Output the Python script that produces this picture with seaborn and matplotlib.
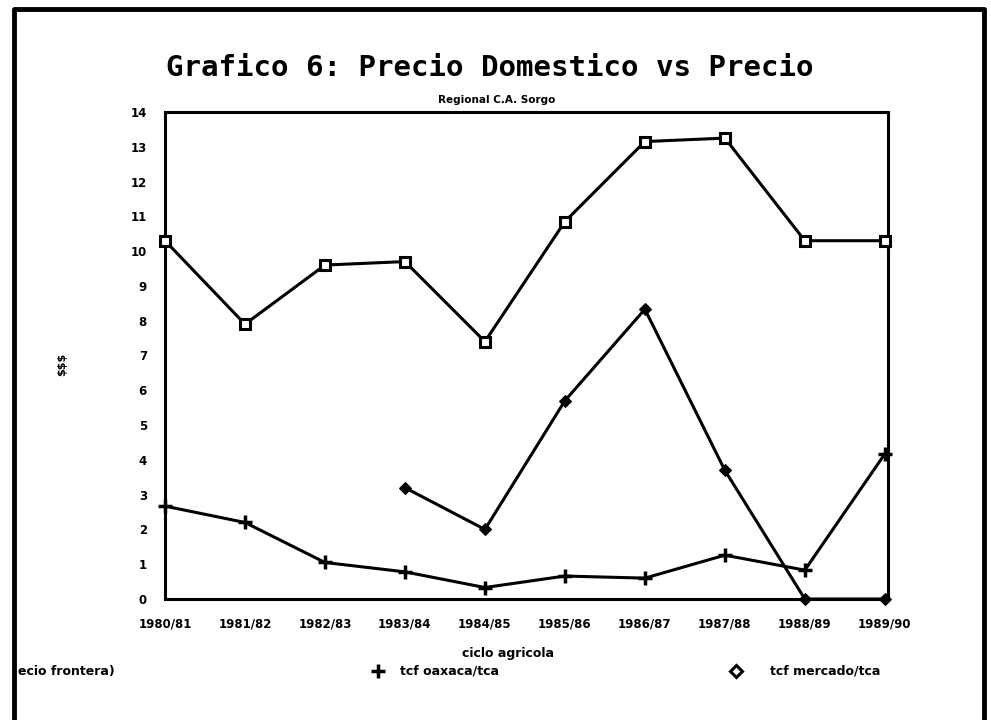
import pandas as pd
import numpy as np
import seaborn as sns
import matplotlib.pyplot as plt
from matplotlib.lines import Line2D

ciclos = ["1980/81", "1981/82", "1982/83", "1983/84", "1984/85",
          "1985/86", "1986/87", "1987/88", "1988/89", "1989/90"]

precio_frontera = [10.3, 7.9, 9.6, 9.7, 7.4, 10.85, 13.15, 13.25, 10.3, 10.3]
tcf_oaxaca = [2.67, 2.2, 1.05, 0.78, 0.33, 0.66, 0.6, 1.26, 0.83, 4.17]
tcf_mercado = [np.nan, np.nan, np.nan, 3.2, 2.0, 5.7, 8.33, 3.7, 0.0, 0.0]

series_names = ["ecio frontera)", "tcf oaxaca/tca", "tcf mercado/tca"]

df = pd.DataFrame({
    "x": list(range(len(ciclos))) * 3,
    "valor": precio_frontera + tcf_oaxaca + tcf_mercado,
    "serie": [series_names[0]] * 10 + [series_names[1]] * 10 + [series_names[2]] * 10,
})

sns.set_style("white")
plt.rcParams["font.family"] = ["DejaVu Sans"]
plt.rcParams["text.color"] = "black"
plt.rcParams["xtick.color"] = "black"
plt.rcParams["ytick.color"] = "black"

fig = plt.figure(figsize=(9.91, 7.2), dpi=100)
ax = fig.add_axes([165 / 991, 1 - 599 / 720, (888 - 165) / 991, (599 - 112) / 720])

sns.lineplot(data=df, x="x", y="valor", hue="serie", style="serie",
             palette=["black", "black", "black"],
             markers={series_names[0]: "s", series_names[1]: "P", series_names[2]: "D"},
             dashes=False, linewidth=2.2, markersize=7, ax=ax, legend=False)

# hollow squares, plus and filled diamonds
lines = ax.get_lines()
for ln in lines:
    ln.set_markeredgecolor("black")
    ln.set_clip_on(False)
    ln.set_zorder(5)
lines[0].set_markerfacecolor("white")
lines[0].set_markeredgewidth(2.2)
lines[1].set_marker("+")
lines[1].set_markersize(10)
lines[1].set_markeredgewidth(2.5)
lines[2].set_markersize(6)
lines[2].set_markerfacecolor("black")

ax.set_xlim(0, 9.04)
ax.set_ylim(0, 14)
ax.set_xticks(range(len(ciclos)))
ax.set_xticklabels(ciclos, fontsize=8.5, fontweight="bold", color="black")
ax.set_yticks(range(0, 15))
ax.set_yticklabels([str(v) for v in range(0, 15)], fontsize=8.5,
                   fontweight="bold", color="black")
ax.tick_params(axis="both", direction="out", length=7, width=2, color="black", pad=6)
for s in ax.spines.values():
    s.set_visible(True)
    s.set_color("black")
    s.set_linewidth(2.2)
ax.set_xlabel("")
ax.set_ylabel("")

fig.text(490 / 991, 1 - 68 / 720, "Grafico 6: Precio Domestico vs Precio",
         ha="center", va="center", fontsize=21, fontweight="bold",
         family="DejaVu Sans Mono", color="black")
fig.text(497 / 991, 1 - 100 / 720, "Regional C.A. Sorgo",
         ha="center", va="center", fontsize=7.5, fontweight="bold", color="black")
fig.text(508 / 991, 1 - 653 / 720, "ciclo agricola",
         ha="center", va="center", fontsize=9, fontweight="bold", color="black")
fig.text(62 / 991, 1 - 364 / 720, "$$$", rotation=90,
         ha="center", va="center", fontsize=8, fontweight="bold", color="black")

# legend row below the axes
leg_y = 1 - 671 / 720
fig.text(18 / 991, leg_y, series_names[0], ha="left", va="center",
         fontsize=9, fontweight="bold", color="black")
fig.add_artist(Line2D([378 / 991], [leg_y], marker="+", markersize=10,
                      markeredgewidth=2.5, color="black", transform=fig.transFigure))
fig.text(400 / 991, leg_y, series_names[1], ha="left", va="center",
         fontsize=9, fontweight="bold", color="black")
fig.add_artist(Line2D([736 / 991], [leg_y], marker="D", markersize=6,
                      markerfacecolor="white", markeredgewidth=2.2,
                      color="black", transform=fig.transFigure))
fig.text(770 / 991, leg_y, series_names[2], ha="left", va="center",
         fontsize=9, fontweight="bold", color="black")

# page border
fig.add_artist(Line2D([14 / 991, 14 / 991, 984 / 991, 984 / 991],
                      [0, 1 - 9 / 720, 1 - 9 / 720, 0],
                      color="black", linewidth=3.5, transform=fig.transFigure))

fig.savefig("out.png", dpi=100)
